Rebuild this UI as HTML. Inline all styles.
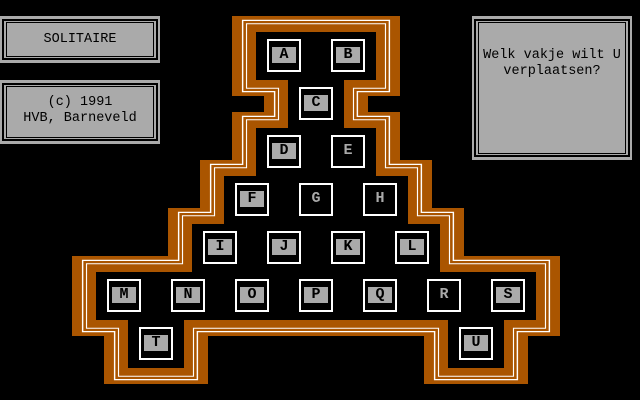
<!DOCTYPE html>
<html><head><style>
html,body{margin:0;padding:0;background:#000;width:640px;height:400px;overflow:hidden}
.panel{position:absolute;background:#aaa}
.b1{position:absolute;border:2px solid #000}
.b2{position:absolute;border:1px solid #000}
.t{position:absolute;font-family:"Liberation Mono",monospace;font-size:13.5px;color:#000;text-align:center;width:100%;line-height:16px}
.h{position:absolute;width:30px;height:29px;border:2px solid #fff}
.h span{position:absolute;left:3px;top:6px;width:24px;height:16px;line-height:16px;text-align:center;font-family:"Liberation Mono",monospace;font-weight:bold;font-size:15px;color:#000;background:#aaa}
.h.e span{background:none;color:#aaa}
</style></head><body>
<div class="panel" style="left:0;top:16px;width:160px;height:47px">
<div class="b1" style="left:2px;top:3px;right:2px;bottom:3px"></div>
<div class="b2" style="left:6px;top:6px;right:6px;bottom:6px"></div>
<div class="t" style="top:16px">SOLITAIRE</div></div>
<div class="panel" style="left:0;top:80px;width:160px;height:64px">
<div class="b1" style="left:2px;top:3px;right:2px;bottom:3px"></div>
<div class="b2" style="left:6px;top:6px;right:6px;bottom:6px"></div>
<div class="t" style="top:15px">(c) 1991<br>HVB, Barneveld</div></div>
<div class="panel" style="left:472px;top:16px;width:160px;height:144px">
<div class="b1" style="left:2px;top:3px;right:2px;bottom:3px"></div>
<div class="b2" style="left:6px;top:6px;right:6px;bottom:6px"></div>
<div class="t" style="top:32px">Welk vakje wilt U<br>verplaatsen?</div></div>

<svg width="640" height="400" style="position:absolute;left:0;top:0">
<defs>
<polygon id="p" points="170.667,32 250.667,32 250.667,80 229.333,80 229.333,128 250.667,128 250.667,176 272,176 272,224 293.333,224 293.333,272 357.333,272 357.333,320 336,320 336,368 298.667,368 298.667,320 122.667,320 122.667,368 85.333,368 85.333,320 64,320 64,272 128,272 128,224 149.333,224 149.333,176 170.667,176 170.667,128 192,128 192,80 170.667,80"/>
<polygon id="q" points="222.609,32 326.957,32 326.957,80 299.130,80 299.130,128 326.957,128 326.957,176 354.783,176 354.783,224 382.609,224 382.609,272 466.087,272 466.087,320 438.261,320 438.261,368 389.565,368 389.565,320 160,320 160,368 111.304,368 111.304,320 83.478,320 83.478,272 166.957,272 166.957,224 194.783,224 194.783,176 222.609,176 222.609,128 250.435,128 250.435,80 222.609,80"/>
</defs>
<g transform="scale(1.5,1)">
<use href="#p" fill="none" stroke="#aa5500" stroke-width="32"/>
</g>
<g transform="scale(1.15,1)">
<use href="#q" fill="none" stroke="#fff" stroke-width="24.5"/>
<use href="#q" fill="none" stroke="#aa5500" stroke-width="22"/>
<use href="#q" fill="none" stroke="#fff" stroke-width="17.5"/>
<use href="#q" fill="none" stroke="#aa5500" stroke-width="15.5"/>
</g>
<g transform="scale(1.5,1)">
<use href="#p" fill="#000" stroke="none"/>
</g>
</svg>
<div class="h" style="left:267px;top:39px"><span>A</span></div>
<div class="h" style="left:331px;top:39px"><span>B</span></div>
<div class="h" style="left:299px;top:87px"><span>C</span></div>
<div class="h" style="left:267px;top:135px"><span>D</span></div>
<div class="h e" style="left:331px;top:135px"><span>E</span></div>
<div class="h" style="left:235px;top:183px"><span>F</span></div>
<div class="h e" style="left:299px;top:183px"><span>G</span></div>
<div class="h e" style="left:363px;top:183px"><span>H</span></div>
<div class="h" style="left:203px;top:231px"><span>I</span></div>
<div class="h" style="left:267px;top:231px"><span>J</span></div>
<div class="h" style="left:331px;top:231px"><span>K</span></div>
<div class="h" style="left:395px;top:231px"><span>L</span></div>
<div class="h" style="left:107px;top:279px"><span>M</span></div>
<div class="h" style="left:171px;top:279px"><span>N</span></div>
<div class="h" style="left:235px;top:279px"><span>O</span></div>
<div class="h" style="left:299px;top:279px"><span>P</span></div>
<div class="h" style="left:363px;top:279px"><span>Q</span></div>
<div class="h e" style="left:427px;top:279px"><span>R</span></div>
<div class="h" style="left:491px;top:279px"><span>S</span></div>
<div class="h" style="left:139px;top:327px"><span>T</span></div>
<div class="h" style="left:459px;top:327px"><span>U</span></div>
</body></html>
